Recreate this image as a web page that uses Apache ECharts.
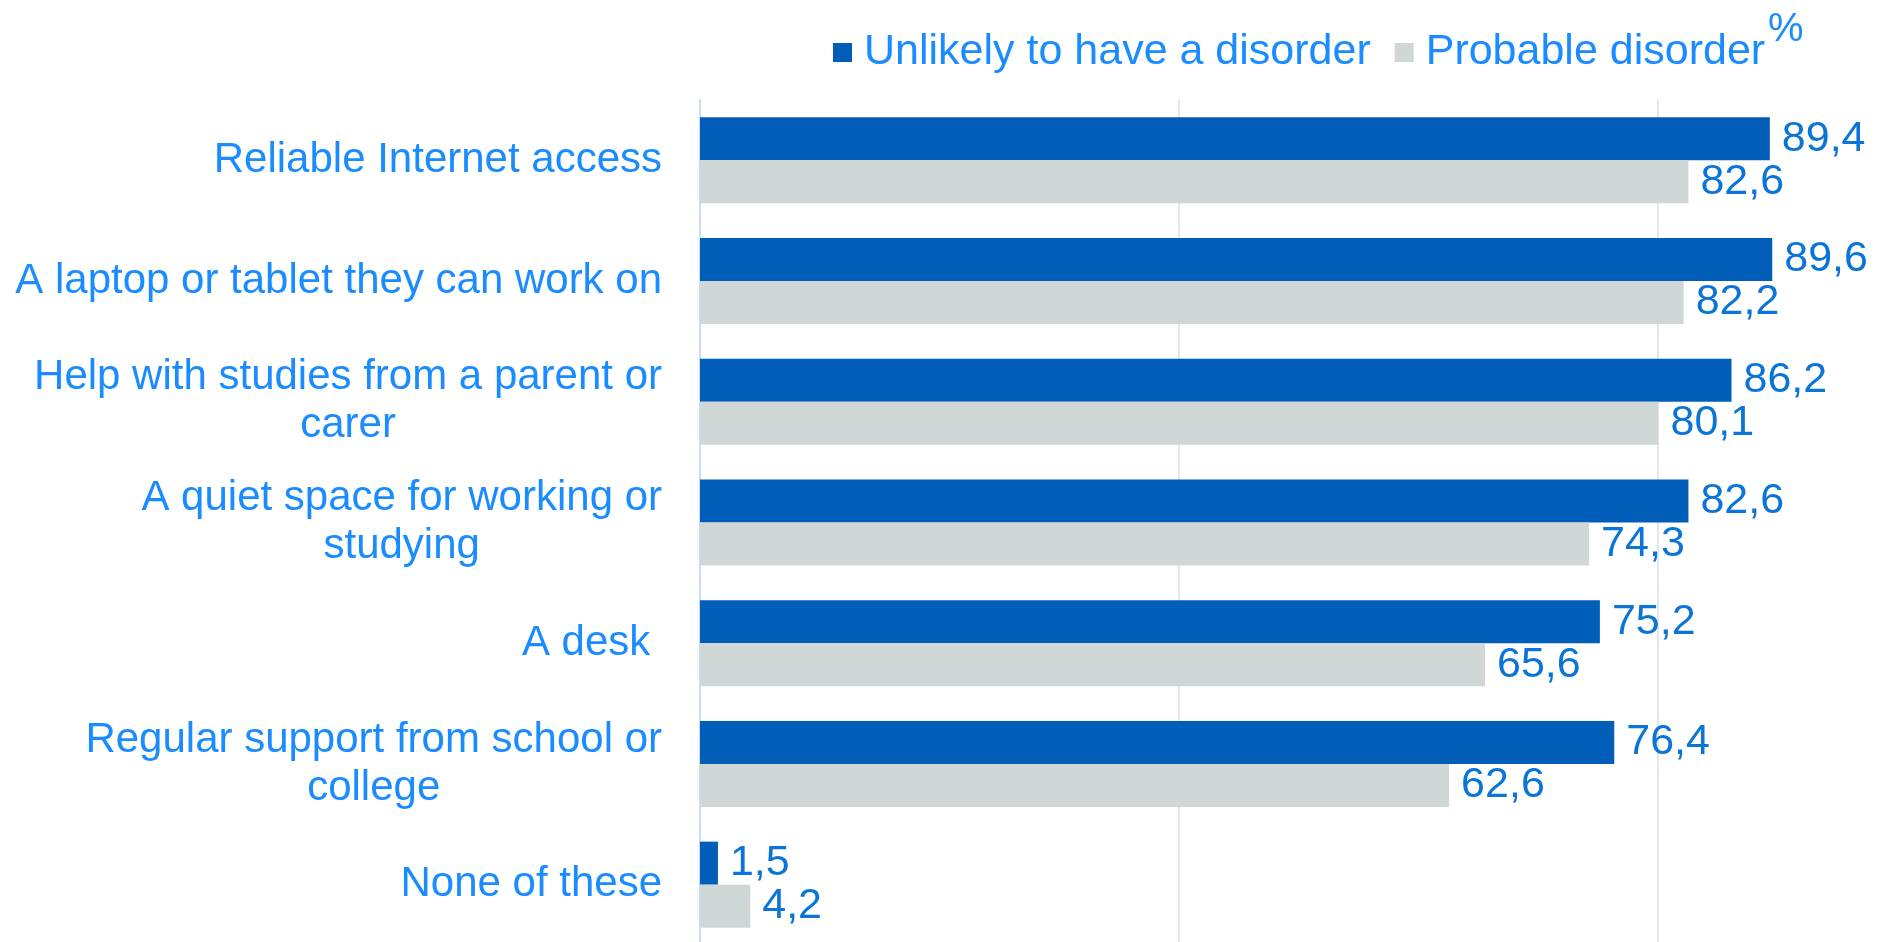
<!DOCTYPE html>
<html>
<head>
<meta charset="utf-8">
<title>Home study resources</title>
<script src="https://cdn.jsdelivr.net/npm/echarts@6/dist/echarts.min.js"></script>
<style>
  html, body { margin: 0; padding: 0; background: #fff; }
  #chart { width: 1886px; height: 942px; }
</style>
</head>
<body>
<div id="chart"></div>
<script>
  // categories, top to bottom
  var categories = [
    'Reliable Internet access',
    'A laptop or tablet they can work on',
    'Help with studies from a parent or\ncarer',
    'A quiet space for working or\nstudying',
    'A desk ',
    'Regular support from school or\ncollege',
    'None of these'
  ]
  var seriesNames = ['Unlikely to have a disorder', 'Probable disorder']
  var unlikelyValues = [89.4, 89.6, 86.2, 82.6, 75.2, 76.4, 1.5]
  var probableValues = [82.6, 82.2, 80.1, 74.3, 65.6, 62.6, 4.2]
  var xTicks = [0, 40, 80, 120]

  var font = '"Liberation Sans", Arial, sans-serif'
  var labelBlue = '#1a8cff'
  var valueBlue = '#0b74d8'

  var myChart = echarts.init(document.getElementById('chart'))

  // value label like 89,4
  function commaLabel (p) {
    return String(p.value.toFixed(1)).replace('.', ',')
  }

  var option = {
    animation: false,
    backgroundColor: '#ffffff',
    textStyle: { fontFamily: font },
    legend: {
      data: seriesNames,
      left: 833,
      top: 31,
      padding: 0,
      icon: 'rect',
      itemWidth: 19,
      itemHeight: 19,
      itemGap: 24,
      textStyle: {
        fontFamily: font,
        fontSize: 43,
        color: labelBlue,
        padding: [0, 0, 0, 7]
      }
    },
    graphic: [
      {
        type: 'text',
        left: 1768,
        top: 10,
        style: { text: '%', font: '40px ' + font, fill: labelBlue }
      }
    ],
    grid: {
      left: 700,
      top: 100,
      width: 1436,
      height: 845,
      outerBoundsMode: 'none',
      containLabel: false
    },
    xAxis: {
      type: 'value',
      min: xTicks[0],
      max: xTicks[xTicks.length - 1],
      interval: 40,
      axisLine: { show: false },
      axisTick: { show: false },
      axisLabel: { show: false },
      splitLine: { show: true, lineStyle: { color: '#e2e7ec', width: 2 } }
    },
    yAxis: {
      type: 'category',
      data: categories,
      inverse: true,
      axisLine: { show: true, lineStyle: { color: '#c4dffc', width: 2 } },
      axisTick: { show: false },
      axisLabel: {
        margin: 38,
        fontSize: 42,
        lineHeight: 48,
        color: labelBlue,
        fontFamily: font,
        formatter: function (value) {
          // each line centred inside the right-aligned block
          return value.split('\n').map(function (s) { return '{c|' + s + '}' }).join('\n')
        },
        rich: {
          c: { align: 'center', fontSize: 42, lineHeight: 48, color: labelBlue, fontFamily: font }
        }
      }
    },
    series: [
      {
        name: seriesNames[0],
        type: 'bar',
        data: unlikelyValues,
        barWidth: 43,
        barGap: '0%',
        itemStyle: { color: '#005eb8' },
        label: {
          show: true,
          position: 'right',
          distance: 12,
          fontSize: 43,
          color: valueBlue,
          fontFamily: font,
          formatter: commaLabel
        }
      },
      {
        name: seriesNames[1],
        type: 'bar',
        data: probableValues,
        barWidth: 43,
        barGap: '0%',
        itemStyle: { color: '#d0d7d7' },
        label: {
          show: true,
          position: 'right',
          distance: 12,
          fontSize: 43,
          color: valueBlue,
          fontFamily: font,
          formatter: commaLabel
        }
      }
    ]
  }

  myChart.setOption(option)
</script>
</body>
</html>
